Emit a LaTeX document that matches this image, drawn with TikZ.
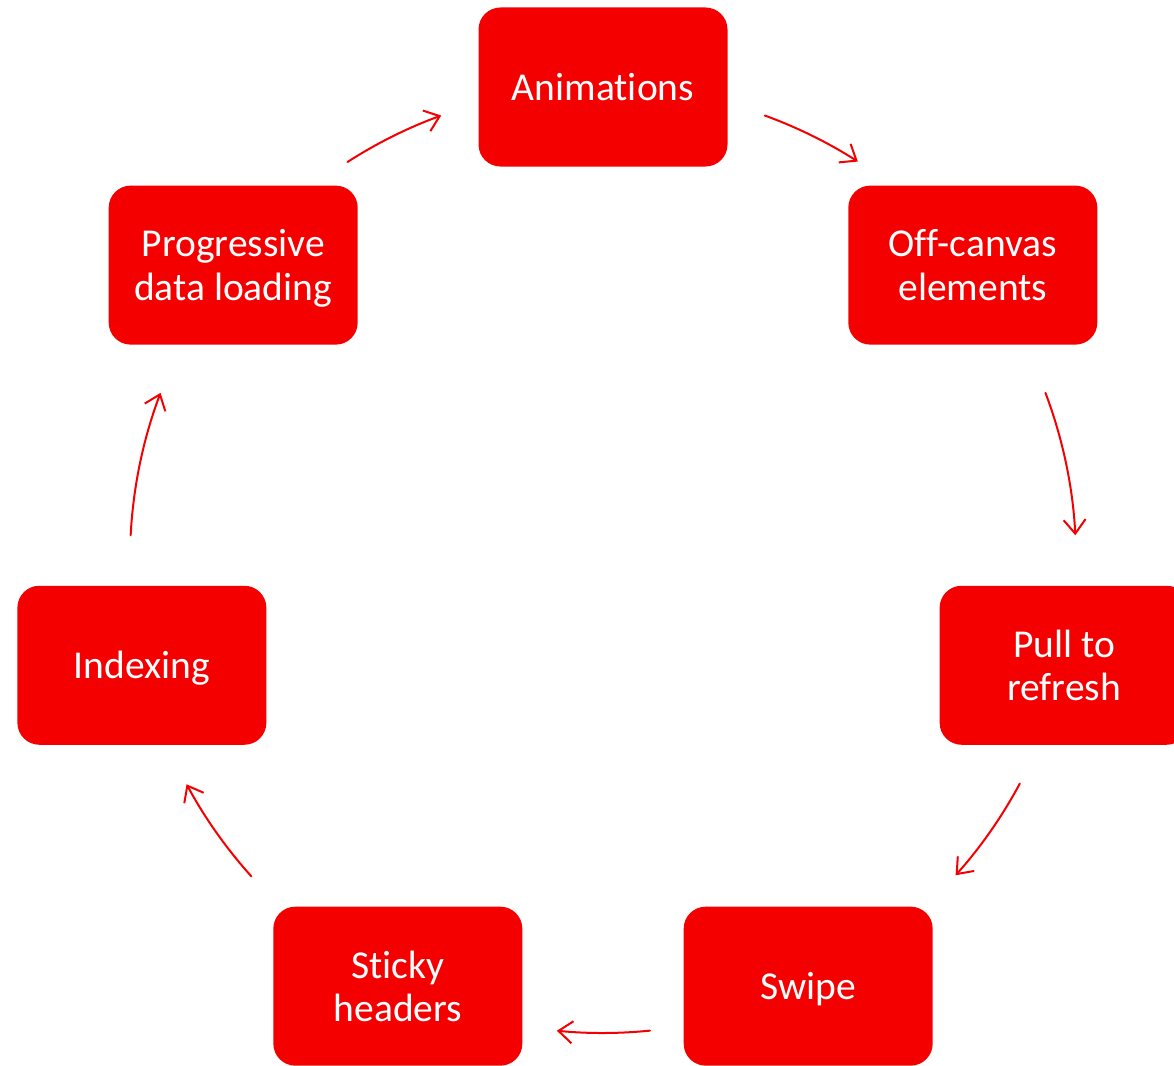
\documentclass[tikz,border=0pt]{standalone}
\usepackage{fontspec}
\setmainfont{Carlito}[Ligatures={NoCommon}]
\usetikzlibrary{arrows.meta,calc}
\definecolor{boxred}{RGB}{245,0,0}
\newcommand{\topstrut}{\rule{0pt}{39pt}}
\newcommand{\botstrut}{\rule[-12pt]{0pt}{12pt}}
\begin{document}
\begin{tikzpicture}[x=1pt,y=1pt,
  item/.style={fill=boxred, rounded corners=22pt, minimum width=249pt, minimum height=159pt,
    inner sep=0pt, text=white, font=\fontsize{39.5}{43.3}\selectfont, align=center},
  flow/.style={draw=boxred, line width=2pt, line cap=round,
    -{Straight Barb[length=14pt,width=22pt]}}]
\useasboundingbox (0,0) rectangle (1174,-1065);
\clip (0,0) rectangle (1174,-1065);
\coordinate (c) at (603,-560);
\node[item] (anim) at ([shift={(90:473)}]c) {\topstrut Animations\botstrut};
\node[item] (off)  at ([shift={(38.57:473)}]c) {\topstrut Off-canvas\\elements\botstrut};
\node[item] (pull) at ([shift={(-12.86:473)}]c) {\topstrut Pull to\\refresh\botstrut};
\node[item] (swipe) at ([shift={(-64.29:473)}]c) {\topstrut Swipe\botstrut};
\node[item] (sticky) at ([shift={(-115.71:473)}]c) {\topstrut Sticky\\headers\botstrut};
\node[item] (index) at ([shift={(-167.14:473)}]c) {\topstrut Indexing\botstrut};
\node[item] (prog) at ([shift={(141.43:473)}]c) {\topstrut Progressive\\data loading\botstrut};
% arrow start points
\coordinate (s1) at ([shift={(70:473)}]c);
\coordinate (s2) at ([shift={(20.7:473)}]c);
\coordinate (s3) at ([shift={(-28.2:473)}]c);
\coordinate (s4) at ([shift={(-84.3:473)}]c);
\coordinate (s5) at ([shift={(-138.0:473)}]c);
\coordinate (s6) at ([shift={(177.0:473)}]c);
\coordinate (s7) at ([shift={(122.7:473)}]c);
\draw[flow] (s1) arc[start angle=70, end angle=57.4, radius=473];
\draw[flow] (s2) arc[start angle=20.7, end angle=3.0, radius=473];
\draw[flow] (s3) arc[start angle=-28.2, end angle=-41.8, radius=473];
\draw[flow] (s4) arc[start angle=-84.3, end angle=-95.6, radius=473];
\draw[flow] (s5) arc[start angle=-138.0, end angle=-151.7, radius=473];
\draw[flow] (s6) arc[start angle=177.0, end angle=159.3, radius=473];
\draw[flow] (s7) arc[start angle=122.7, end angle=110.0, radius=473];
\end{tikzpicture}
\end{document}
